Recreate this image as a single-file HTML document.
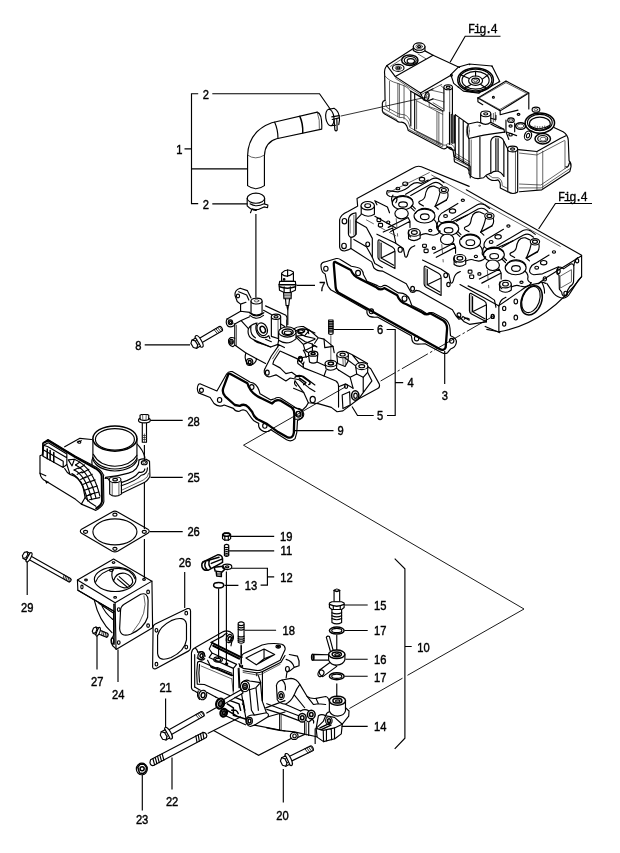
<!DOCTYPE html>
<html><head><meta charset="utf-8"><title>Parts diagram</title>
<style>
html,body{margin:0;padding:0;background:#fff}
body{width:620px;height:853px;overflow:hidden}
svg{display:block;filter:grayscale(1)}
svg *{vector-effect:non-scaling-stroke}
.k{stroke:#000;stroke-width:1.15;fill:none;stroke-linecap:round;stroke-linejoin:round}
.b{stroke:#000;stroke-width:1.5;fill:none;stroke-linecap:round;stroke-linejoin:round}
.t{stroke:#222;stroke-width:0.7;fill:none;stroke-linecap:round;stroke-linejoin:round}
.l{stroke:#000;stroke-width:1.15;fill:none}
.w{fill:#fff}
text{font-family:"Liberation Sans","DejaVu Sans",sans-serif;font-weight:normal;font-size:13.3px;fill:#000;stroke:#000;stroke-width:0.4px}
.fig{font-family:"Liberation Mono","DejaVu Sans Mono",monospace;font-weight:normal;font-size:12px;letter-spacing:-1.55px;stroke:#000;stroke-width:0.3px}
</style></head><body>
<svg width="620" height="853" viewBox="0 0 620 853">
<rect x="0" y="0" width="620" height="853" fill="#fff" stroke="none"/>
<!-- 10_coverA1.svg -->
<g transform="translate(375,35) scale(0.193548)">
 <!-- top-left boss -->
 <path class="k" d="M198,60 L198,80 Q228,102 258,82 L258,60"/>
 <ellipse class="k w" cx="228" cy="60" rx="30" ry="19"/>
 <ellipse class="t" cx="228" cy="60" rx="17" ry="11"/>
 <ellipse class="k" cx="228" cy="60" rx="8" ry="5"/>
 <!-- top face edges -->
 <path class="k" d="M62,158 L198,70"/>
 <path class="t" d="M80,162 L150,117"/>
 <path class="k" d="M258,82 L300,105"/>
 <path class="t" d="M222,98 L262,122"/>
 <!-- boss 2 -->
 <ellipse class="k w" cx="120" cy="170" rx="30" ry="18"/>
 <ellipse class="t" cx="120" cy="170" rx="16" ry="10"/>
 <ellipse class="k" cx="120" cy="170" rx="8" ry="5"/>
 <!-- oil hole -->
 <ellipse class="b" cx="180" cy="130" rx="42" ry="27"/>
 <ellipse class="k" cx="182" cy="131" rx="31" ry="20"/>
 <ellipse class="k" cx="185" cy="134" rx="19" ry="12"/>
 <!-- left end -->
 <path class="k" d="M62,158 Q46,172 50,205 L52,338"/>
 <path class="k" d="M62,158 L105,215"/>
 <path class="t" d="M52,212 Q70,238 118,250 L150,262 Q172,270 185,292"/>
 <path class="t" d="M75,240 L75,390 M118,250 L118,420 M126,254 L126,424 M150,262 L150,434"/>
 <path class="k" d="M185,290 L185,470 M205,302 L205,492"/>
 <!-- plate -->
 <path class="k" d="M105,215 L300,105 L437,168 M105,215 L235,300 L392,208"/>
 <path class="t" d="M107,225 L236,310 L262,295"/>
 <!-- flange -->
 <path class="k" d="M52,338 Q40,340 38,352 L38,392 Q40,402 50,408 L112,443 Q122,453 136,450 Q160,452 168,480 L172,494 L348,586 Q362,592 372,580 Q396,576 404,600 L408,628 L492,678 L492,738"/>
 <path class="t" d="M44,380 L114,420 Q126,430 142,426 Q168,432 176,462 L180,478 L350,568 Q362,574 376,562 Q404,560 412,588 L416,612 L490,656"/>
 <path class="t" d="M56,345 Q52,365 62,375 L118,405 Q135,412 152,412 Q176,420 184,452"/>
 <path class="t" d="M41,397 L113,437 M176,488 L348,578 M410,620 L490,668"/>
 <path class="t" d="M205,492 L345,562 M212,500 L340,566"/>
 <!-- front face -->
 <path class="k" d="M185,290 L235,318 M205,302 L350,392"/>
 <path class="t" d="M215,340 L350,410 M215,340 L215,485"/>
 <path class="t" d="M320,395 L320,560 M350,395 L350,575 M330,400 L330,566"/>
 <path class="k" d="M385,400 L385,565"/>
 <path class="k" d="M394,410 L394,558 M402,413 L402,560 M410,416 L410,558"/>
 <!-- center column boss -->
 <path class="k" d="M356,270 L356,392 M400,270 L400,410"/>
 <path class="t" d="M386,282 L386,400"/>
 <ellipse class="k w" cx="378" cy="270" rx="22" ry="13"/>
 <ellipse class="k" cx="378" cy="270" rx="10" ry="6"/>
 <!-- pipe stub -->
 <ellipse class="k" cx="268" cy="318" rx="11" ry="22" transform="rotate(15 268 318)"/>
 <ellipse class="t" cx="270" cy="318" rx="6" ry="14" transform="rotate(15 270 318)"/>
 <path class="k" d="M262,297 L300,278 M276,340 L300,330"/>
 <path class="k" d="M235,300 L250,335 M250,335 L262,340"/>
 <!-- inner behind plate -->
 <path class="t" d="M290,285 L356,300 M300,330 L356,345 M300,350 L350,380 M280,345 L280,370 L350,395"/>
 <path class="t" d="M300,278 L345,255 M340,262 L356,275"/>
</g>
<g transform="translate(440,95) scale(0.145161)">
 <!-- middle section -->
 <path class="k" d="M105,135 L195,200 M105,135 L105,420 M130,160 L130,440 M160,180 L160,465"/>
 <path class="k" d="M195,200 Q180,245 198,300 M195,200 L258,186 L290,195 M198,300 L262,285 Q340,268 445,256 M350,200 Q400,230 440,236"/>
 <ellipse class="t" cx="192" cy="248" rx="10" ry="42"/>
 <path class="k" d="M200,300 L200,540 Q215,572 262,576 L300,570 Q318,548 345,540 M275,290 L275,565"/>
 <path class="t" d="M215,310 L215,550"/>
 <path class="k" d="M350,540 L350,320 Q355,290 385,285 Q430,285 440,320 L440,560"/>
 <path class="k" d="M385,300 L385,520 M400,300 L400,525 M350,540 Q370,520 400,525 Q420,530 440,560"/>
 <path class="k" d="M320,560 Q350,600 400,585 Q420,600 415,640 L470,668"/>
 <path class="t" d="M335,552 Q360,580 400,570 Q432,585 428,625 L468,645"/>
 <path class="k" d="M100,420 Q95,440 100,460 L190,505 L200,520 M45,350 Q70,380 100,380"/>
 <path class="t" d="M100,440 L192,488"/>
 <!-- boss -->
 <path class="k w" d="M280,132 L280,190 Q315,215 350,188 L350,132 Z"/>
 <ellipse class="k w" cx="315" cy="130" rx="35" ry="20"/>
 <ellipse class="k" cx="315" cy="130" rx="14" ry="8"/>
 <path class="k" d="M350,160 L385,170 L385,140 M350,188 L440,236 L445,256"/>
 <ellipse class="t" cx="272" cy="212" rx="6" ry="4"/>
 <!-- right column -->
 <path class="k w" d="M467,372 L467,665 Q500,690 535,668 L535,372 Z"/>
 <path class="t" d="M520,385 L520,672"/>
 <ellipse class="k w" cx="500" cy="372" rx="35" ry="20"/>
 <ellipse class="k" cx="500" cy="372" rx="14" ry="8"/>
 <path class="k" d="M440,320 L467,372"/>
</g>

<!-- 11_coverA2.svg -->
<g transform="translate(475,35) scale(0.193548)">
 <!-- round housing center (3,232) -->
 <path class="k" d="M-125,205 L-85,165 L-30,150 L88,160 L128,240 L20,300 L-60,290 L-110,250 Z"/>
 <ellipse class="b" cx="3" cy="232" rx="92" ry="62"/>
 <ellipse class="k" cx="3" cy="232" rx="84" ry="56"/>
 <ellipse class="k" cx="3" cy="234" rx="70" ry="46"/>
 <ellipse class="k" cx="3" cy="236" rx="36" ry="24"/>
 <ellipse class="k" cx="3" cy="236" rx="20" ry="13"/>
 <ellipse class="t" cx="3" cy="236" rx="10" ry="6"/>
 <path class="k" d="M-30,225 L-75,205 M38,228 L68,205 M-20,256 L-55,275 M30,256 L55,272 M3,212 L3,188"/>
 <circle cx="-122" cy="208" r="5" class="k"/><circle cx="-28" cy="152" r="4" fill="#000"/><circle cx="88" cy="162" r="4" fill="#000"/><circle cx="125" cy="240" r="4" fill="#000"/><circle cx="22" cy="298" r="4" fill="#000"/><circle cx="-85" cy="270" r="4" fill="#000"/>
 <!-- box plate -->
 <path class="k" d="M15,325 L160,238 L278,300 L130,392 Z"/>
 <path class="t" d="M22,325 L160,246 L268,302 L130,384 Z"/>
 <circle cx="95" cy="322" r="5" class="k"/>
 <circle cx="160" cy="240" r="4" fill="#000"/><circle cx="126" cy="388" r="4" fill="#000"/><circle cx="16" cy="325" r="4" fill="#000"/>
 <path class="k" d="M278,300 L278,382 M130,392 L130,412 L222,388 M15,325 L15,345 L40,360"/>
 <path class="t" d="M105,400 L105,445 M95,405 L95,450"/>
 <!-- right cluster -->
 <ellipse class="k" cx="315" cy="386" rx="20" ry="13"/>
 <ellipse class="t" cx="315" cy="386" rx="9" ry="6"/>
 <ellipse class="b" cx="335" cy="455" rx="76" ry="52"/>
 <ellipse class="k" cx="335" cy="452" rx="64" ry="42"/>
 <ellipse class="k" cx="335" cy="458" rx="54" ry="34"/>
 <path class="k" d="M285,470 Q335,500 385,468 M290,480 Q335,508 380,478"/>
 <path class="t" d="M310,470 L310,488 M322,472 L322,491 M335,473 L335,492 M348,472 L348,491 M360,470 L360,488"/>
 <ellipse class="k" cx="186" cy="440" rx="17" ry="12"/>
 <ellipse class="t" cx="186" cy="440" rx="9" ry="6"/>
 <ellipse class="b" cx="236" cy="470" rx="26" ry="17"/>
 <ellipse class="t" cx="236" cy="470" rx="17" ry="10"/>
 <ellipse class="k" cx="184" cy="470" rx="8" ry="6"/>
 <ellipse class="k" cx="184" cy="515" rx="9" ry="7"/>
 <ellipse class="k" cx="225" cy="410" rx="7" ry="5"/>
 <path class="k" d="M160,440 L160,500 L175,540 M205,455 L205,500 M160,500 L215,520"/>
 <ellipse class="k" cx="274" cy="520" rx="18" ry="24" transform="rotate(20 274 520)"/>
 <ellipse class="k" cx="274" cy="520" rx="8" ry="12" transform="rotate(20 274 520)"/>
 <ellipse class="b" cx="350" cy="536" rx="40" ry="27"/>
 <ellipse class="k" cx="350" cy="536" rx="26" ry="17"/>
 <ellipse class="t" cx="352" cy="538" rx="16" ry="10"/>
 <!-- right end body -->
 <path class="k" d="M408,478 L455,500 Q480,515 482,545 L486,650 Q498,660 496,680 L490,705 L345,800 L230,810"/>
 <path class="k" d="M225,592 L320,602 L440,535 L470,520"/>
 <path class="t" d="M230,610 L320,620 L462,545"/>
 <path class="t" d="M320,602 L320,800 M350,600 L350,795 M465,548 L465,690"/>
 <path class="t" d="M230,770 L340,775 L480,680 M230,790 L342,790 L488,692"/>
 <path class="k" d="M470,680 Q480,690 488,660"/>
</g>
<!-- Fig.4 labels -->
<path class="l" d="M450.1,62.3 L465.2,36.2 L500.5,36.2"/>
<text class="fig" x="468" y="33.2">Fig.4</text>
<path class="l" d="M538.6,229 L555.4,203.5 L592,203.5"/>
<text class="fig" x="558" y="200.5">Fig.4</text>

<!-- 20_hose.svg -->
<g transform="translate(235,85) scale(0.193548)">
 <path class="k" d="M65,520 L65,365 Q68,240 190,195 L425,140 Q452,150 448,228 L215,278 Q155,295 152,365 L152,520 Q108,552 65,520 Z"/>
 <path class="t" d="M65,362 Q105,392 152,362"/>
 <path class="k" d="M205,192 Q222,230 222,275"/>
 <path class="b" d="M335,162 Q352,200 350,247"/>
 <path class="t" d="M425,140 Q440,180 436,228"/>
 <!-- top clamp -->
 <ellipse class="k" cx="490" cy="168" rx="21" ry="43" transform="rotate(-8 490 168)"/>
 <path class="k" d="M484,126 L512,120 Q540,135 540,180 L536,205 M497,210 L520,208"/>
 <path class="k" d="M500,165 L538,158 M502,178 L538,170"/>
 <path class="k" d="M512,178 L516,232 Q522,242 528,232 L526,175"/>
 <!-- bottom clamp -->
 <ellipse class="k" cx="108" cy="585" rx="45" ry="26"/>
 <path class="k" d="M63,585 L63,625 Q85,648 110,648 M153,585 L153,612"/>
 <path class="k" d="M78,614 Q110,634 150,614 L170,620 L168,634 L150,630 Q110,652 88,640 L80,660"/>
</g>
<!-- bracket & leaders for 1,2 -->
<path class="l" d="M198.2,93.7 L191.5,93.7 L191.5,203.6 L198.2,203.6 M184.5,148.9 L191.5,148.9 M191.5,168.8 L247.7,168.8"/>
<path class="l" d="M212.3,93.7 L319.5,93.7 L330.5,109.5 M212.3,203.9 L247.4,203.9"/>
<path class="l" d="M255.9,214 L255.9,297.5"/>
<path class="t" style="stroke:#000;stroke-width:0.8" d="M341,116 L427,97"/>
<text transform="translate(202.7,98.5) scale(0.84,1)">2</text>
<text transform="translate(202.7,208.7) scale(0.84,1)">2</text>
<text transform="translate(176.2,153.9) scale(0.84,1)">1</text>

<!-- 30_headB1.svg -->
<g transform="translate(335,165) scale(0.209677)">
 <!-- top outline -->
 <path class="k" d="M108,196 L105,160 L372,14 Q392,2 412,8 L640,102"/>
 <!-- left end flange -->
 <path class="k" d="M105,198 L62,222 Q25,238 22,262 L22,392 Q25,410 45,410 L62,405 L76,398 L76,345"/>
 <path class="k" d="M76,345 Q62,340 64,320 L64,262 Q66,240 85,232 L100,228 M100,232 L100,330 Q92,345 76,345"/>
 <path class="t" d="M72,262 L72,325 M90,240 L90,335"/>
 <ellipse class="k" cx="45" cy="268" rx="11" ry="13"/>
 <ellipse class="k" cx="43" cy="386" rx="11" ry="13"/>
 <!-- left boss -->
 <path class="k" d="M125,195 L125,232 Q155,255 188,235 L188,195"/>
 <ellipse class="k w" cx="156" cy="194" rx="32" ry="20"/>
 <ellipse class="k" cx="156" cy="194" rx="14" ry="9"/>
 <path class="k" d="M100,262 L125,235 M100,262 L100,330"/>
 <!-- front face -->
 <path class="k" d="M100,270 L150,298 L178,350 L178,440 M76,398 L175,462 L185,490 Q200,506 226,506 L340,566 Q350,585 362,606 Q378,612 386,598 L400,600 L480,645 L560,690 Q575,720 590,735 Q605,735 610,722 L640,740"/>
 <path class="k" d="M90,355 L150,390 L178,440 L190,470 L226,490"/>
 <ellipse class="k" cx="156" cy="378" rx="9" ry="11"/>
 <ellipse class="k" cx="311" cy="404" rx="10" ry="12"/>
 <ellipse class="k" cx="370" cy="590" rx="9" ry="11"/>
 <ellipse class="k" cx="528" cy="526" rx="9" ry="11"/>
 <ellipse class="k" cx="541" cy="570" rx="8" ry="10"/>
 <ellipse class="k" cx="591" cy="716" rx="9" ry="11"/>
 <!-- port 1 -->
 <path class="k" d="M213,358 L275,392 Q286,398 286,412 L286,494 L215,456 Q205,450 205,440 L205,368 Q205,354 213,358 Z"/>
 <path class="k" d="M220,372 L220,444 L280,478 M220,444 L284,412"/>
 <path class="t" d="M213,366 L213,450"/>
 <!-- port 2 -->
 <path class="k" d="M433,483 L495,517 Q506,523 506,537 L506,622 L435,583 Q425,577 425,567 L425,493 Q425,479 433,483 Z"/>
 <path class="k" d="M440,498 L440,571 L500,606 M440,571 L504,540"/>
 <path class="t" d="M433,492 L433,577"/>
</g>

<!-- 31_headB2.svg -->
<g transform="translate(460,165) scale(0.209677)">
 <!-- top right edge -->
 <path class="k" d="M30,118 L580,430"/>
 <path class="t" d="M-135,48 L478,388"/>
 <path class="k" d="M186,672 L0,570 M190,800 L120,770"/>
 <ellipse class="k" cx="157" cy="722" rx="7" ry="10"/>
 <!-- last port -->
 <path class="k" d="M53,613 L115,647 Q126,653 126,667 L126,748 L55,711 Q45,705 45,695 L45,623 Q45,609 53,613 Z"/>
 <path class="k" d="M60,628 L60,700 L120,734 M60,700 L124,668"/>
 <path class="t" d="M53,620 L53,706"/>
 <path class="k" d="M-10,720 Q10,735 20,748 L45,760 L126,748 M20,735 Q30,725 45,735"/>
</g>
<g transform="translate(490,235) scale(0.16129)">
 <!-- right face -->
 <path class="k" d="M568,128 L568,258 Q348,551 55,600 L55,438 L190,345 Q230,308 300,300 L350,264 L568,128"/>
 <path class="k" d="M55,600 L-20,585"/>
 <!-- round port -->
 <ellipse class="b" cx="258" cy="405" rx="62" ry="94" transform="rotate(20 258 405)"/>
 <ellipse class="k" cx="254" cy="400" rx="53" ry="84" transform="rotate(20 254 400)"/>
 <path class="k" d="M300,302 L320,290 L345,300 M320,290 Q340,330 338,360"/>
 <!-- thermostat flange -->
 <path class="k" d="M415,217 Q420,195 440,200 L456,210 L500,180 Q520,175 520,200 L518,290 Q515,310 495,320 L480,345 Q485,376 465,380 Q445,378 445,355 L430,335 L428,250 L415,240 Z"/>
 <path class="k" d="M352,300 Q375,335 395,362 Q420,390 455,392 Q485,385 495,362 L548,280 L568,258 M520,190 Q525,150 545,140"/>
 <path class="t" d="M436,255 L505,215 L505,290 L438,328 Z"/>
 <ellipse class="k" cx="425" cy="225" rx="10" ry="14"/>
 <ellipse class="k" cx="540" cy="160" rx="10" ry="13"/>
 <ellipse class="k" cx="468" cy="362" rx="10" ry="13"/>
 <ellipse class="k" cx="340" cy="272" rx="10" ry="13"/>
 <ellipse class="k" cx="88" cy="455" rx="10" ry="13"/>
 <ellipse class="k" cx="160" cy="412" rx="11" ry="15"/>
 <ellipse class="k" cx="160" cy="512" rx="11" ry="15"/>
 <ellipse class="k" cx="88" cy="552" rx="10" ry="13"/>
 <ellipse class="k" cx="15" cy="505" rx="9" ry="13"/>
</g>
<!-- inner rim left -->
<path class="t" d="M386.6,193.6 L429.3,172.6"/>

<!-- 32_headunits.svg -->
<defs>
<g id="hu">
 <ellipse class="k" cx="195" cy="302" rx="72" ry="46"/>
 <path class="k" d="M130,285 Q150,250 200,250 Q240,252 262,280"/>
 <ellipse class="k" cx="197" cy="312" rx="30" ry="18"/>
 <ellipse class="k w" cx="187" cy="375" rx="46" ry="36"/>
 <ellipse class="k" cx="345" cy="392" rx="72" ry="48"/>
 <path class="k" d="M282,375 Q300,338 350,338 Q395,340 414,372"/>
 <ellipse class="k" cx="347" cy="397" rx="30" ry="20"/>
 <path class="k" d="M215,242 L395,136 Q420,124 448,138 L480,162"/>
 <path class="k" d="M250,250 L400,166 Q424,154 446,166 L468,182"/>
 <path class="k" d="M365,205 Q352,228 350,252 Q345,278 315,288 Q298,296 312,308 L338,322"/>
 <path class="k" d="M365,205 Q382,182 412,186 L442,200"/>
 <path class="k" d="M445,395 Q430,432 470,440 L530,434 L640,385 M445,395 Q455,372 480,362 L575,305"/>
 <ellipse class="k" cx="490" cy="392" rx="13" ry="10"/>
 <ellipse class="k" cx="538" cy="357" rx="22" ry="15"/>
 <ellipse class="k w" cx="478" cy="213" rx="32" ry="22"/>
 <ellipse class="k" cx="478" cy="213" rx="17" ry="11"/>
 <path class="b" d="M495,282 L418,325"/>
 <path class="k" d="M505,230 Q512,262 495,282 M452,228 Q445,270 418,325 L440,345"/>
 <ellipse class="k" cx="609" cy="283" rx="11" ry="8"/>
 <ellipse class="k" cx="385" cy="492" rx="11" ry="8"/>
 <path class="k" d="M235,505 L235,548 Q275,575 315,545 L315,505"/>
 <ellipse class="k w" cx="275" cy="505" rx="40" ry="26"/>
 <ellipse class="k" cx="275" cy="505" rx="20" ry="13"/>
 <path class="k" d="M238,488 Q222,520 250,536 M315,524 Q350,506 374,518 L405,524 Q440,520 452,496"/>
 <path class="k" d="M412,418 Q436,440 428,468 Q428,488 452,496"/>
 <path class="k" d="M125,300 Q110,270 128,248"/>
 <path class="k" d="M258,318 L282,342 M250,332 L275,356"/>
 <path class="k" d="M95,470 L232,402 M112,498 L245,428 L245,470 M232,402 L245,428"/>
 <path class="t" stroke-dasharray="9 6" d="M150,410 L160,530"/>
 <rect class="k" x="18" y="408" width="26" height="22" rx="6"/><rect class="k" x="28" y="442" width="28" height="24" rx="6"/>
 <ellipse class="k" cx="95" cy="435" rx="11" ry="9"/>
 <path class="k" d="M17,517 L144,578 L199,615 Q206,650 211,672 Q222,684 230,657 Q236,622 256,607 L278,596"/>
</g>
</defs>
<clipPath id="hc"><path d="M340,150 L600,150 L600,244.4 L480,317.6 L480,360 L340,360 Z"/></clipPath>
<g clip-path="url(#hc)">
<g transform="translate(420,185) scale(0.145161)">
 <use href="#hu" transform="translate(-314,-178)"/>
 <use href="#hu"/>
 <use href="#hu" transform="translate(314,178)"/>
</g>
</g>
<g transform="translate(335,165) scale(0.209677)">
 <path class="k" d="M250,122 Q238,140 262,150 L292,152 Q300,165 290,180 M250,122 L300,128 Q340,120 362,95 Q385,78 410,88 L445,72"/>
 <ellipse class="k" cx="335" cy="90" rx="12" ry="9"/>
 <ellipse class="k" cx="415" cy="68" rx="13" ry="9"/>
 <ellipse class="k" cx="300" cy="112" rx="9" ry="6"/>
 <path class="k" d="M190,170 L250,200 L260,228 M190,170 L200,190 M190,245 L290,300 M230,320 L275,300 L290,372"/>
 <path class="t" stroke-dasharray="8 5" d="M150,262 L290,338"/>
</g>

<!-- 40_manifD1.svg -->
<g transform="translate(222,295) scale(0.145161)">
 <!-- top-left ear (above stub) -->
 <g transform="translate(5,25)"><path class="k" d="M85,-22 Q80,-60 120,-72 L170,-55 L195,-5 M85,-22 L100,20 L123,38 L123,87 M110,-48 L165,-25 L180,10 M123,38 L160,25"/>
 <ellipse class="k" cx="105" cy="-18" rx="11" ry="13"/></g>
 <!-- pipe stub -->
 <path class="k w" d="M200,42 L200,125 Q238,150 276,125 L276,42 Z"/>
 <ellipse class="k w" cx="238" cy="42" rx="38" ry="20"/>
 <ellipse class="t" cx="238" cy="40" rx="16" ry="8"/>
 <path class="k" d="M190,122 Q238,165 288,122 M192,140 Q238,180 286,140"/>
 <!-- block -->
 <path class="k" d="M35,165 L128,112 L192,120 M286,105 L340,135 M300,75 L440,140 Q452,152 446,175 L446,215"/>
 <path class="k" d="M35,165 Q22,188 38,212 Q55,228 82,212 L88,200"/>
 <ellipse class="k" cx="58" cy="188" rx="15" ry="17"/>
 <ellipse class="k" cx="59" cy="189" rx="7" ry="9"/>
 <path class="k" d="M88,200 L88,345 L165,400 L235,437 M88,200 L132,176 L182,232 M132,176 L190,150"/>
 <path class="t" d="M100,208 L100,350 M88,200 L35,165"/>
 <path class="k" d="M88,298 Q55,284 45,310 Q42,346 76,356 L88,345"/>
 <ellipse class="k" cx="65" cy="322" rx="13" ry="16"/>
 <ellipse class="k" cx="66" cy="323" rx="6" ry="8"/>
 <path class="k" d="M165,400 Q150,440 175,472 Q205,492 226,466 Q240,450 235,437 L300,472"/>
 <ellipse class="k" cx="190" cy="462" rx="22" ry="24"/>
 <ellipse class="b" cx="191" cy="463" rx="10" ry="12"/>
 <!-- bulge and round boss -->
 <path class="k" d="M182,232 Q170,285 215,306 L335,358 M182,232 Q200,200 242,194 M215,306 Q238,332 272,336 M200,215 Q190,270 230,295"/>
 <path class="k" d="M238,198 Q222,250 262,286 Q300,304 322,280 L330,300"/>
 <ellipse class="k" cx="277" cy="236" rx="34" ry="46" transform="rotate(-25 277 236)"/>
 <ellipse class="b" cx="281" cy="238" rx="17" ry="24" transform="rotate(-25 281 238)"/>
 <path class="k" d="M272,336 L335,358 L385,340 M300,305 L340,322"/>
 <!-- post -->
 <path class="k w" d="M340,150 L340,285 L385,300 L404,290 L404,150 Z"/>
 <path class="t" d="M386,160 L386,296"/>
 <ellipse class="k w" cx="372" cy="150" rx="32" ry="18"/>
 <ellipse class="k" cx="372" cy="150" rx="14" ry="8"/>
 <path class="k" d="M404,200 L430,215 L430,235"/>
 <!-- sensor boss -->
 <path class="k w" d="M390,255 L390,312 Q450,352 510,302 L510,255 Z"/>
 <ellipse class="k w" cx="450" cy="255" rx="60" ry="35"/>
 <ellipse class="b" cx="452" cy="256" rx="38" ry="21"/>
 <ellipse class="k" cx="454" cy="260" rx="25" ry="12"/>
 <path class="k" d="M390,312 L385,340 L430,362 M385,340 L385,356"/>
 <!-- right top small boss area -->
 <path class="k" d="M505,250 Q540,222 592,240 L640,262 M510,290 L560,340 L572,382 L640,348 M525,262 L575,285 L640,300 M560,340 L640,305"/>
 <ellipse class="k" cx="548" cy="246" rx="22" ry="12"/>
 <!-- flange plate -->
 <path class="k" d="M385,356 L340,420 L300,500 Q284,522 296,548 Q312,572 342,560 L372,550 L440,592 L470,572 L532,584 L600,640 L640,665"/>
 <path class="k" d="M400,386 L356,455 L350,476 L400,502 L440,542 L480,532 L520,562 L560,560 L640,620 M400,386 L520,440 L560,480"/>
 <path class="t" d="M392,372 L348,440"/>
 <ellipse class="k" cx="312" cy="535" rx="13" ry="17"/>
 <ellipse class="k" cx="540" cy="440" rx="14" ry="18"/>
 <path class="k" d="M560,380 Q575,400 580,430 M572,382 L600,400 L640,440"/>
</g>

<!-- 41_manifD2.svg -->
<g transform="translate(295,320) scale(0.145161)">
 <!-- stud 6 -->
 <path class="k w" d="M232,0 L262,0 L262,95 Q247,105 232,95 Z"/>
 <path class="k" d="M232,10 L262,10 M232,22 L262,22 M232,34 L262,34 M232,46 L262,46 M232,58 L262,58 M232,70 L262,70 M232,82 L262,82"/>
 <path class="t" d="M247,108 L247,288"/>
 <!-- rocker-like top -->
 <path class="k" d="M-10,62 Q20,40 60,46 L100,70 L160,122 L200,132 L262,182 M60,46 Q90,60 95,95 M10,110 L70,150 L120,165 M100,70 L70,105 L10,110 M160,122 L135,160"/>
 <ellipse class="k" cx="38" cy="80" rx="20" ry="12"/>
 <path class="k" d="M120,165 L120,210 M200,132 L205,190 L262,182 L270,225"/>
 <path class="b" d="M120,170 L150,185"/>
 <!-- stud boss 1 -->
 <path class="k w" d="M93,235 L100,290 Q125,305 152,290 L157,235 Z"/>
 <ellipse class="k w" cx="125" cy="232" rx="32" ry="18"/>
 <ellipse class="b" cx="125" cy="232" rx="14" ry="8" fill="#333"/>
 <!-- boss 3 -->
 <path class="k w" d="M288,242 L294,300 L345,320 L365,285 L368,242 Z"/>
 <path class="t" d="M330,262 L332,312 M345,262 L347,316"/>
 <ellipse class="k w" cx="328" cy="238" rx="40" ry="22"/>
 <ellipse class="k" cx="328" cy="238" rx="18" ry="10"/>
 <!-- stud boss 2 -->
 <path class="k w" d="M208,304 L214,336 Q247,358 286,332 L288,300 Z"/>
 <ellipse class="k w" cx="247" cy="300" rx="40" ry="22"/>
 <ellipse class="b" cx="247" cy="300" rx="18" ry="10"/>
 <!-- link 3-4 and boss 4 -->
 <path class="k" d="M355,220 L395,240 L440,296 M345,262 L420,318 M395,240 L500,300"/>
 <path class="k w" d="M418,320 L425,372 L470,395 L500,360 L502,322 Z"/>
 <ellipse class="k w" cx="460" cy="318" rx="42" ry="24"/>
 <ellipse class="k" cx="460" cy="318" rx="20" ry="11"/>
 <!-- body -->
 <path class="k" d="M502,322 L522,336 L580,440 Q588,462 570,472 L440,542 L330,626 L290,632 L250,602 L160,576 L92,570 L60,500 L0,420"/>
 <path class="k" d="M500,360 L530,420 L470,500 L440,542 M470,395 L470,500 M425,372 L380,395 L300,345 M380,395 L400,470"/>
 <path class="k" d="M20,300 Q10,270 40,262 L93,250 M20,300 L60,330 L150,365 L200,386 L282,420 Q300,432 300,460 L300,600 M152,290 L208,315 M60,330 Q50,310 62,290"/>
 <ellipse class="k" cx="38" cy="272" rx="12" ry="15"/>
 <path class="k" d="M300,460 L350,440 L400,470 M286,332 L300,345 M200,386 L214,345"/>
 <path class="k" d="M325,516 L376,494 L380,586 L330,610 Z"/>
 <ellipse class="b" cx="415" cy="520" rx="25" ry="32"/>
 <ellipse class="k" cx="417" cy="522" rx="12" ry="18"/>
 <ellipse class="k" cx="352" cy="458" rx="11" ry="13"/>
 <!-- clip on flange -->
 <path class="b" d="M0,395 Q20,375 45,385 L100,425 Q110,440 95,445 M30,400 L75,432 L60,445"/>
 <path class="k" d="M0,420 Q-10,440 10,455 M-10,470 L60,500"/>
 <ellipse class="k" cx="122" cy="548" rx="18" ry="22"/>
 <ellipse class="k" cx="24" cy="650" rx="18" ry="20"/>
 <path class="k" d="M-10,600 Q20,610 45,625 Q60,650 45,675 Q20,690 -10,680 M92,570 Q80,600 50,622"/>
</g>
<!-- bracket 4/5/6 and labels -->
<path class="l" d="M386.6,329.5 L395.2,329.5 L395.2,415.5 L387,415.5 M395.2,382.6 L403.2,382.6"/>
<path class="l" d="M333.5,329.5 L373.7,329.5 M352,406.5 L357.5,415.5 L373.7,415.5"/>
<path class="l" d="M444.7,351 L444.7,384"/>
<text transform="translate(376.9,333.9) scale(0.84,1)">6</text>
<text transform="translate(407.6,387.4) scale(0.84,1)">4</text>
<text transform="translate(376.9,420) scale(0.84,1)">5</text>
<text transform="translate(441.8,399.5) scale(0.84,1)">3</text>

<!-- 45_sensor_bolt8.svg -->
<g transform="translate(180,262) scale(0.193548)">
 <!-- sensor 7 -->
 <path class="k w" d="M525,100 L525,58 Q552,28 586,52 L586,100 Z"/>
 <path class="k" d="M525,62 Q552,85 586,58 M556,40 L556,75"/>
 <circle class="k" cx="538" cy="90" r="4"/>
 <path class="k w" d="M515,100 L596,100 L598,118 L596,146 L570,158 L538,158 L514,146 L512,118 Z"/>
 <path class="b" d="M512,118 L598,118 M514,128 Q555,142 596,128"/>
 <path class="k" d="M538,128 L538,158 M570,128 L570,158"/>
 <path class="k w" d="M535,158 L575,158 L574,190 L537,190 Z"/>
 <path class="t" d="M536,166 L574,166 M536,174 L574,174 M536,182 L574,182"/>
 <path class="k" d="M545,190 L548,225 L562,225 L566,190 M552,225 L557,250 L560,225"/>
 <path class="l" d="M557,250 L557,325"/>
</g>
<path class="l" d="M144.7,344.8 L190,344.8 M296.5,285.3 L315,285.3"/>
<text transform="translate(135.2,349.7) scale(0.84,1)">8</text>
<text transform="translate(319.2,290.6) scale(0.84,1)">7</text>

<!-- 50_gaskets.svg -->
<g transform="translate(315,245) scale(0.241935)">
 <!-- gasket 3 outer -->
 <path class="k" d="M25,90 Q22,74 40,70 L88,56 Q98,54 108,62 L150,88 Q162,90 172,92 Q198,96 200,122 L215,150 L258,168 Q272,178 282,168 Q292,164 302,172 L345,198 Q380,196 392,228 L400,250 L440,270 L462,284 Q474,278 488,280 L535,305 Q556,318 558,345 L560,375 Q588,385 584,405 Q580,425 560,430 L548,445 Q538,452 525,445 L455,408 Q440,410 425,410 Q400,408 400,385 L398,375 L258,298 Q240,300 225,295 Q212,285 215,270 L65,185 Q50,170 48,150 L42,120 Q26,112 25,90 Z"/>
 <path class="b" style="stroke-width:2.3" d="M84,70 L148,103 Q158,130 186,140 L255,176 Q270,190 286,178 L340,208 Q350,236 378,245 L445,280 Q460,292 476,282 L530,312 Q546,324 546,345 L540,424 Q532,440 515,430 L96,196 Q85,186 85,170 L78,84 Q76,68 84,70 Z"/>
 <ellipse class="k" cx="45" cy="98" rx="9" ry="10"/>
 <ellipse class="k" cx="178" cy="116" rx="10" ry="11"/>
 <ellipse class="k" cx="233" cy="274" rx="9" ry="10"/>
 <ellipse class="k" cx="370" cy="222" rx="10" ry="11"/>
 <ellipse class="k" cx="420" cy="386" rx="9" ry="10"/>
 <ellipse class="k" cx="565" cy="396" rx="9" ry="10"/>
</g>
<g transform="translate(185,360) scale(0.241935)">
 <!-- gasket 9 -->
 <path class="k" d="M56,100 Q46,118 56,136 L104,155 L120,180 Q140,198 162,186 L200,200 Q210,215 225,212 Q240,200 255,212 L275,240 Q285,255 305,262 Q300,285 325,295 Q345,300 355,288 L420,330 Q440,340 455,325 L462,300 L465,250 Q495,240 490,220 Q484,200 462,200 L400,160 Q385,150 370,160 L355,165 L310,140 Q300,95 270,92 L195,48 Q180,45 172,58 L132,128 L62,98 Z"/>
 <path class="b" style="stroke-width:2.3" d="M186,57 L258,96 Q270,140 320,160 L360,180 Q375,160 396,168 L440,195 Q452,205 452,226 L450,300 Q446,326 425,320 L385,298 L340,265 L300,245 Q285,236 278,215 L262,195 Q246,178 226,190 L206,186 L166,150 Q152,135 158,116 L178,62 Q180,54 186,57 Z"/>
 <ellipse class="k" cx="68" cy="125" rx="8" ry="9"/>
 <ellipse class="k" cx="143" cy="165" rx="9" ry="10"/>
 <ellipse class="k" cx="276" cy="112" rx="9" ry="10"/>
 <ellipse class="k" cx="468" cy="222" rx="9" ry="10"/>
 <ellipse class="k" cx="330" cy="272" rx="9" ry="10"/>
</g>
<path class="l" d="M295,430.6 L333.5,430.6"/>
<text transform="translate(337.4,434.8) scale(0.84,1)">9</text>

<!-- 60_throttle.svg -->
<g transform="translate(30,405) scale(0.209677)">
 <!-- flange & body right -->
 <path class="k" d="M510,185 Q540,215 548,250 M520,262 Q545,250 570,268 L572,340 Q560,365 540,372 L440,420 M300,250 Q290,270 300,300 L352,335 M358,350 Q372,345 380,362 M435,370 Q500,350 520,320 Q545,325 548,305"/>
 <path class="k" d="M360,345 Q420,340 470,325 Q520,310 520,262 M435,385 Q510,360 530,335 Q560,330 560,300"/>
 <path class="t" d="M440,405 L540,358 Q565,345 566,325"/>
 <ellipse class="k" cx="545" cy="275" rx="14" ry="10"/>
 <ellipse class="t" cx="545" cy="275" rx="7" ry="5"/>
 <!-- front boss -->
 <path class="k" d="M380,360 L380,425 Q405,445 436,425 L436,365"/>
 <path class="t" d="M392,370 L392,432 M424,370 L424,430"/>
 <ellipse class="k w" cx="406" cy="356" rx="28" ry="14"/>
 <ellipse class="k" cx="406" cy="356" rx="11" ry="6"/>
 <!-- top cylinder -->
 <path class="k w" d="M300,160 L300,260 Q320,310 405,315 Q490,310 510,265 L510,160 Z"/>
 <path class="k" d="M302,235 Q330,290 405,292 Q480,290 510,240 M300,250 Q325,302 405,305 Q485,302 510,255"/>
 <ellipse class="b w" cx="405" cy="160" rx="105" ry="60"/>
 <ellipse class="k" cx="405" cy="164" rx="93" ry="51"/>
 </g>
<g transform="translate(32,425) scale(0.145161)">
 <!-- motor housing -->
 <path class="k w" d="M75,125 L110,100 L300,215 L440,290 Q488,320 492,350 L495,528 Q490,560 440,588 L340,545 L300,512 L95,386 Q60,372 55,332 L55,212 L72,205 Z"/>
 <path class="b" style="stroke-width:2" d="M82,122 L112,108 L298,222 L436,298 Q476,324 480,352 L482,526 Q478,552 442,574"/>
 <path class="k" d="M75,125 L72,205 L76,216 L215,292 L240,272 L240,226 L110,150 L80,140 L76,216 M80,140 L112,122 L240,200 L240,226 M215,292 L215,250 L80,172"/>
 <path class="b" d="M105,165 L105,232 M125,176 L125,243 M150,190 L150,256"/>
 <path class="k" d="M240,272 L262,340 Q330,362 350,420 L366,500 L340,545 M262,340 Q240,330 225,300"/>
 <path class="k" d="M250,240 L292,236 L276,282 Z"/>
 <path class="k" d="M292,236 Q420,290 468,490 M300,275 Q395,320 440,500 M290,310 Q370,345 412,515 M275,335 Q345,370 385,525"/>
 <path class="k" d="M300,275 L330,255 M322,300 L362,275 M345,330 L392,305 M362,365 L415,340 M375,400 L435,378 M385,440 L450,420 M392,480 L460,462 M395,515 L466,500 M290,310 L318,296 M312,340 L345,322 M335,375 L372,357 M350,410 L390,393 M362,450 L402,435 M370,490 L412,478"/>
 <path class="k" d="M366,500 Q400,540 440,560 M55,332 L95,350 M95,386 L100,400 L110,392"/>
 <path class="k" d="M225,150 L330,92 L410,100 M312,118 L340,108"/>
 <ellipse class="k" cx="326" cy="118" rx="10" ry="8"/>
</g>
<!-- gasket 26 upper -->
<g transform="translate(30,405) scale(0.209677)">
 <path class="k" d="M246,592 L392,510 Q405,503 418,510 L562,592 Q575,602 562,612 L418,697 Q405,704 392,697 L246,612 Q234,602 246,592 Z"/>
 <ellipse class="k" cx="405" cy="605" rx="105" ry="62"/>
 <ellipse class="k" cx="405" cy="523" rx="10" ry="7"/>
 <ellipse class="k" cx="265" cy="605" rx="10" ry="7"/>
 <ellipse class="k" cx="545" cy="605" rx="10" ry="7"/>
 <ellipse class="k" cx="405" cy="686" rx="10" ry="7"/>
</g>

<!-- 61_adapter.svg -->
<g transform="translate(65,545) scale(0.225806)">
 <!-- adapter 24 -->
 <path class="k w" d="M55,155 L215,62 L385,160 L388,366 L228,462 L210,445 L205,420 L215,400 L215,292 L57,200 Z"/>
 <path class="k" d="M55,155 L222,256 L385,160 M222,256 L226,462 M57,200 L220,296"/>
 <path class="b" d="M217,262 L217,440"/>
 <ellipse class="k" cx="222" cy="152" rx="92" ry="54"/>
 <path class="k" d="M135,165 Q150,120 215,105 Q290,95 310,150 M215,105 Q200,130 215,160 Q235,185 262,190 M215,160 Q225,120 265,125 Q300,135 300,165 Q290,190 262,190 M240,140 L285,180 M232,150 L275,186"/>
 <ellipse class="k" cx="205" cy="112" rx="8" ry="5"/>
 <ellipse class="k" cx="215" cy="78" rx="6" ry="4"/><ellipse class="k" cx="93" cy="155" rx="6" ry="4"/><ellipse class="k" cx="350" cy="153" rx="6" ry="4"/><ellipse class="k" cx="222" cy="232" rx="6" ry="4"/>
 <ellipse class="k" cx="75" cy="186" rx="5" ry="8"/>
 <!-- right face opening -->
 <path class="k" d="M246,290 Q246,272 262,262 L335,218 Q366,208 368,245 L366,320 Q350,370 290,395 Q245,410 242,370 Z"/>
 <path class="t" d="M350,225 Q372,300 300,385"/>
 <ellipse class="k" cx="238" cy="286" rx="6" ry="8"/><ellipse class="k" cx="368" cy="208" rx="6" ry="8"/><ellipse class="k" cx="368" cy="357" rx="6" ry="8"/><ellipse class="k" cx="238" cy="432" rx="6" ry="8"/>
 <!-- elbow below -->
 <path class="k" d="M130,245 Q150,335 208,388 M150,258 L212,300 M160,262 Q175,300 212,330"/>
 <ellipse class="k" cx="210" cy="425" rx="6" ry="14"/>
 <!-- gasket 26 #2 -->
 <path class="k" d="M390,365 Q390,355 400,350 L540,282 Q555,278 556,292 L556,455 Q556,465 546,470 L402,548 Q388,552 388,538 Z"/>
 <path class="k" d="M410,400 Q420,360 470,335 Q530,310 538,350 L538,420 Q530,470 470,498 Q415,520 410,480 Z"/>
 <ellipse class="k" cx="405" cy="378" rx="6" ry="8"/><ellipse class="k" cx="537" cy="302" rx="6" ry="8"/><ellipse class="k" cx="537" cy="452" rx="6" ry="8"/><ellipse class="k" cx="405" cy="528" rx="6" ry="8"/>
</g>
<path class="l" d="M27.2,560 L27.2,595 M97,635.5 L97,669.5 M118,649.5 L118,682 M184.7,572 L184.7,608"/>
<path class="l" d="M144.4,445 L144.4,460 M144.4,482 L144.4,529 M144.4,539 L144.4,578 M150,420.3 L182.7,420.3 M150.5,477.4 L182.7,477.4 M149.6,531.6 L182.7,531.6"/>
<!-- bolt 28 -->
<path class="k w" d="M142.3,422 L142.3,442.2 L146.5,442.2 L146.5,422 Z"/>
<path class="t" d="M142.3,435.5 L146.5,435.5 M142.3,437.5 L146.5,437.5 M142.3,439.5 L146.5,439.5 M144.4,434 L144.4,442"/>
<ellipse class="k w" cx="144.4" cy="420.3" rx="5.9" ry="2.6"/>
<path class="k w" d="M140.2,419.5 L140,415.3 L141.5,414.5 L147.3,414.5 L148.8,415.3 L148.6,419.5 Q144.4,421.3 140.2,419.5 Z"/>
<path class="t" d="M142.6,414.7 L142.8,420 M146.2,414.7 L146,420"/>
<text transform="translate(187.4,425.5) scale(0.84,1)">28</text>
<text transform="translate(187.4,482.4) scale(0.84,1)">25</text>
<text transform="translate(187.4,536.3) scale(0.84,1)">26</text>
<text transform="translate(21,611.5) scale(0.84,1)">29</text>
<text transform="translate(91,686) scale(0.84,1)">27</text>
<text transform="translate(112,698.5) scale(0.84,1)">24</text>
<text transform="translate(178.7,566.5) scale(0.84,1)">26</text>

<!-- 70_manif14a.svg -->
<g transform="translate(185,620) scale(0.16129)">
 <!-- left flange -->
 <path class="k" d="M40,205 Q42,182 62,172 L238,72 Q270,58 296,86 Q308,112 290,135 L285,160 M40,205 L40,420 Q42,436 60,440 L80,452 M60,215 L60,415 M62,172 Q75,180 80,200"/>
 <path class="k" d="M80,200 Q118,185 125,225 M160,140 L235,100 Q245,85 262,82 M75,235 Q100,260 122,240"/>
 <ellipse class="k" cx="275" cy="115" rx="18" ry="26" transform="rotate(20 275 115)"/>
 <ellipse class="b" cx="277" cy="116" rx="9" ry="14" transform="rotate(20 277 116)"/>
 <ellipse class="k" cx="100" cy="220" rx="19" ry="24" transform="rotate(20 100 220)"/>
 <ellipse class="b" cx="102" cy="221" rx="9" ry="12" transform="rotate(20 102 221)"/>
 <ellipse class="k" cx="110" cy="465" rx="24" ry="30" transform="rotate(15 110 465)"/>
 <ellipse class="b" cx="112" cy="466" rx="12" ry="16" transform="rotate(15 112 466)"/>
 <path class="k" d="M82,440 Q70,470 90,492 M135,448 L190,478 M60,415 L95,435 M120,400 L280,470"/>
 <!-- opening -->
 <path class="k" d="M78,262 Q68,330 76,398 L120,400 M78,262 Q90,250 110,262 L300,345 M90,275 Q82,330 90,385"/>
 <path class="t" d="M100,285 L290,365 M290,365 L300,460"/>
 <path class="k" d="M300,300 L300,440 M330,300 L335,420"/>
 <!-- top plate -->
 <path class="b" style="stroke-width:2" d="M168,142 L350,232 M175,160 L335,240"/>
 <path class="k" d="M150,232 L168,205 L320,275 L300,300 Z M140,250 L160,290 L290,345 M168,142 L150,180 L168,205"/>
 <ellipse class="k" cx="205" cy="245" rx="27" ry="16"/>
 <ellipse class="k" cx="205" cy="247" rx="17" ry="9"/>
 <ellipse class="k" cx="258" cy="272" rx="7" ry="5"/>
 <path class="k" d="M160,290 Q175,305 200,295 L290,330"/>
 <!-- stud 18 -->
 <path class="k w" d="M330,18 Q348,6 366,18 L366,138 Q348,150 330,138 Z"/>
 <path class="k" d="M330,30 Q348,40 366,30 M330,44 Q348,54 366,44 M330,58 Q348,68 366,58 M330,100 Q348,110 366,100 M330,114 Q348,124 366,114 M330,127 Q348,137 366,127"/>
 <path class="l" d="M348,152 L348,272"/>
 <ellipse class="k" cx="348" cy="285" rx="10" ry="6"/>
 <!-- top port -->
 <path class="k" d="M352,232 Q350,215 365,208 L478,155 Q540,140 600,150 Q625,160 620,185 L590,250 L475,308 Q460,315 440,312 L362,300 Q340,290 335,270"/>
 <path class="k" d="M378,235 L490,180 L556,214 L442,278 Z M490,180 L490,240 L442,278 M490,240 L545,218"/>
 <path class="k" d="M360,315 L445,328 Q465,328 480,320 L595,262 L620,220 M445,328 L445,345 M480,320 L480,500"/>
 <path class="t" d="M360,325 L440,340 L470,338 L590,275"/>
 <ellipse class="k" cx="578" cy="165" rx="14" ry="9"/>
 <ellipse class="b" cx="578" cy="165" rx="6" ry="4"/>
 <path class="k" d="M335,300 L340,420 M455,345 L470,390"/>
 <!-- pivot boss and arm -->
 <ellipse class="k w" cx="372" cy="412" rx="28" ry="33"/>
 <ellipse class="b" cx="372" cy="412" rx="14" ry="18"/>
 <ellipse class="k" cx="372" cy="412" rx="7" ry="9"/>
 <path class="k" d="M352,388 Q375,365 400,378 L468,388 L440,420 L400,432 M345,425 L378,612 M400,432 L412,560 L430,590 M468,388 L478,500 L505,575 M440,420 L455,560"/>
 <path class="k w" d="M378,612 Q372,650 405,660 L430,652 L515,600 Q522,580 505,575 L430,590 Q395,585 378,612 Z"/>
 <ellipse class="k" cx="400" cy="626" rx="18" ry="22"/>
 <ellipse class="b" cx="400" cy="626" rx="9" ry="12"/>
 <path class="k" d="M430,652 L620,688 M515,600 L620,570 M500,545 L620,500"/>
 <!-- pin/rod with nuts -->
 <path class="k w" d="M232,498 L348,432 L360,452 L245,520 Z"/>
 <ellipse class="b w" style="stroke-width:2.2" cx="218" cy="518" rx="24" ry="32" transform="rotate(20 218 518)"/>
 <ellipse class="b" style="fill:#666" cx="220" cy="518" rx="12" ry="18" transform="rotate(20 220 518)"/>
 <ellipse class="b w" style="stroke-width:2.2" cx="240" cy="575" rx="20" ry="24" transform="rotate(20 240 575)"/>
 <ellipse class="b" style="fill:#666" cx="241" cy="575" rx="9" ry="12" transform="rotate(20 241 575)"/>
 <path class="b" d="M262,520 L300,545 L300,590 L380,615 M280,500 L335,520 L345,560 M262,560 L330,600 M310,480 L360,500 L370,560 M290,560 Q320,550 330,580"/>
 <path class="k" d="M190,478 L215,490 M255,595 L375,650 M355,520 Q375,540 368,570"/>
</g>

<!-- 71_manif14b.svg -->
<g transform="translate(270,640) scale(0.16129)">
 <!-- right boss -->
 <path class="k w" d="M368,378 L368,440 Q380,470 420,472 Q460,470 468,440 L468,378 Z"/>
 <ellipse class="b w" cx="418" cy="376" rx="50" ry="28"/>
 <ellipse class="b" cx="418" cy="376" rx="28" ry="15"/>
 <ellipse class="k" cx="420" cy="378" rx="14" ry="7"/>
 <!-- right body -->
 <path class="k" d="M468,420 L490,440 L488,472 L448,522 L442,582 L402,612 L332,630 L292,602 L286,548 L330,505 L345,470 Q350,450 368,445"/>
 <path class="k" d="M448,522 L400,545 L330,560 L286,548 M400,545 L400,612 M330,560 L332,630 M345,470 L400,480 L448,522 M350,560 L350,625 M380,552 L382,618"/>
 <ellipse class="k" cx="365" cy="500" rx="20" ry="24"/>
 <ellipse class="b" cx="366" cy="500" rx="9" ry="12"/>
 <path class="b" d="M310,545 L372,515 M318,556 L378,528"/>
 <path class="k" d="M345,470 Q320,455 300,470 L286,548"/>
 <!-- link arm upper -->
 <path class="k" d="M40,282 Q45,255 75,248 L130,238 Q165,240 185,275 L230,350 Q250,365 285,362 L345,350 Q360,352 368,378"/>
 <path class="k" d="M40,282 L45,370 Q60,395 95,398 L190,440 M95,398 Q130,385 150,340 Q165,300 185,275 M75,248 Q100,270 95,310 M150,340 L215,420 M230,350 L270,400 L300,395 M285,362 L300,395 L345,400"/>
 <ellipse class="k" cx="68" cy="345" rx="20" ry="25"/>
 <ellipse class="b" cx="69" cy="346" rx="9" ry="12"/>
 <path class="k" d="M100,235 L105,200 Q130,190 150,170 L180,160 Q185,130 170,100 L120,90 M150,170 Q140,130 100,120"/>
 <ellipse class="k" cx="108" cy="180" rx="12" ry="16"/>
 <!-- twin bosses -->
 <ellipse class="b w" cx="200" cy="482" rx="24" ry="27"/>
 <ellipse class="b" cx="200" cy="482" rx="11" ry="13"/>
 <ellipse class="b w" cx="256" cy="462" rx="24" ry="27"/>
 <ellipse class="b" cx="256" cy="462" rx="11" ry="13"/>
 <path class="k" d="M190,440 Q215,425 240,438 M225,500 L240,510 L262,490 M260,490 Q275,500 270,515"/>
 <!-- lower body -->
 <path class="k" d="M-20,395 L60,425 L178,470 M-20,430 L60,455 L60,560 M60,455 L180,500 M-20,545 L60,560 L150,570 L290,600"/>
 <path class="k" d="M215,510 L215,585 M240,515 L240,592"/>
 <path class="t" d="M70,460 L70,560 M225,512 L225,590"/>
 <ellipse class="k w" cx="150" cy="595" rx="24" ry="22"/>
 <ellipse class="k" cx="152" cy="595" rx="11" ry="12"/>
 <path class="k" d="M172,605 L215,585"/>
 <path class="l" d="M280,548 L280,645"/>
</g>
<!-- parts 15,16,17 -->
<g transform="translate(300,575) scale(0.193548)">
 <path class="k w" d="M176,80 Q190,65 205,80 L205,140 L176,140 Z"/>
 <path class="b" d="M176,80 Q190,90 205,80"/>
 <path class="k w" d="M152,145 L165,138 L215,138 L228,145 L228,168 L215,178 L165,178 L152,168 Z"/>
 <path class="b" d="M152,152 Q190,170 228,152"/>
 <path class="k" d="M172,160 L172,178 M208,160 L208,178"/>
 <path class="k w" d="M165,178 L215,178 L215,245 Q190,260 165,245 Z"/>
 <path class="k" d="M165,195 Q190,207 215,195 M165,210 Q190,222 215,210 M165,225 Q190,237 215,225"/>
 <ellipse class="b" cx="190" cy="287" rx="38" ry="18"/>
 <ellipse class="k" cx="190" cy="287" rx="26" ry="11"/>
 <path class="l" d="M190,310 L190,390 M190,560 L190,628"/>
 <!-- 16 -->
 <path class="k w" d="M158,398 L136,322 Q142,312 152,318 L172,392 Z"/>
 <path class="k w" d="M150,412 L72,410 Q62,425 72,440 L150,440 Z"/>
 <ellipse class="b" cx="66" cy="425" rx="6" ry="15" fill="#000"/>
 <path class="k w" d="M160,448 L100,492 Q95,515 118,525 L190,472 Z"/>
 <ellipse class="k" cx="108" cy="508" rx="14" ry="18" transform="rotate(35 108 508)"/>
 <path class="k w" d="M148,412 L148,440 Q160,465 190,466 Q225,462 232,438 L232,412 Z"/>
 <ellipse class="b w" cx="190" cy="410" rx="42" ry="22"/>
 <ellipse class="b" cx="190" cy="410" rx="24" ry="12"/>
 <ellipse class="k" cx="192" cy="412" rx="12" ry="6"/>
 <ellipse class="b" cx="190" cy="523" rx="38" ry="18"/>
 <ellipse class="k" cx="190" cy="523" rx="26" ry="11"/>
</g>
<path class="l" d="M344.5,605 L367.7,605 M344.5,630.5 L367.7,630.5 M345.5,659.2 L367.7,659.2 M344.5,676.2 L367.7,676.2 M341.6,726.4 L367.7,726.4"/>
<text transform="translate(374,609.8) scale(0.84,1)">15</text>
<text transform="translate(374,635.4) scale(0.84,1)">17</text>
<text transform="translate(374,664) scale(0.84,1)">16</text>
<text transform="translate(374,681.5) scale(0.84,1)">17</text>
<text transform="translate(374,731.4) scale(0.84,1)">14</text>
<text transform="translate(417.2,652.3) scale(0.84,1)">10</text>

<!-- 72_small.svg -->
<g transform="translate(190,515) scale(0.193548)">
 <!-- nut 19 -->
 <path class="k w" d="M168,100 L178,92 L200,92 L210,100 L210,122 L200,130 L178,130 L168,122 Z"/>
 <ellipse class="b" cx="189" cy="102" rx="18" ry="8"/>
 <path class="k" d="M180,110 L180,130 M198,110 L198,130"/>
 <!-- stud 11 -->
 <path class="k w" d="M178,156 Q189,148 200,156 L200,210 Q189,218 178,210 Z"/>
 <path class="k" d="M178,165 Q189,172 200,165 M178,175 Q189,182 200,175 M178,185 Q189,192 200,185 M178,195 Q189,202 200,195 M178,204 Q189,211 200,204"/>
 <!-- sensor 12 -->
 <ellipse class="k w" cx="192" cy="268" rx="24" ry="14"/>
 <ellipse class="k" cx="192" cy="268" rx="9" ry="5"/>
 <path class="b w" d="M68,242 L145,205 Q165,205 168,225 L168,245 L95,285 Q70,290 62,268 Q58,250 68,242 Z"/>
 <path class="b" d="M80,245 Q70,265 88,282 M100,235 Q92,255 108,275 M68,242 L150,218 M110,250 L165,228"/>
 <path class="b" d="M125,270 L170,265 L180,280 L165,295 L130,290 Z M135,290 L138,315 L162,318 L162,295"/>
 <path class="k" d="M140,305 L162,305"/>
 <!-- o-ring 13 -->
 <ellipse class="b" cx="148" cy="363" rx="26" ry="14"/>
</g>
<path class="l" d="M218.6,588.5 L218.6,658 M226.4,571.5 L226.4,664 M241.3,645.6 L241.3,664"/>
<path class="l" d="M231,536.3 L274.2,536.3 M229.1,550.8 L274.2,550.8 M231.6,568.2 L267.4,568.2 L267.4,585.1 L260.6,585.1 M267.4,576.9 L274.2,576.9 M224.5,585.3 L238.4,585.3 M244.6,630.2 L276.1,630.2"/>
<text transform="translate(280,541.1) scale(0.84,1)">19</text>
<text transform="translate(280.6,555.3) scale(0.84,1)">11</text>
<text transform="translate(280.2,581.8) scale(0.84,1)">12</text>
<text transform="translate(244.8,590.1) scale(0.84,1)">13</text>
<text transform="translate(282.5,634.6) scale(0.84,1)">18</text>

<!-- 73_bolts.svg -->
<g transform="translate(125,690) scale(0.290323)">
 <!-- stud 22 -->
 <path class="k w" d="M88,240 L268,146 Q280,146 282,158 L280,164 L98,260 Q88,262 86,250 Z"/>
 <path class="k" d="M268,146 L272,168 M260,150 L264,172 M252,154 L256,176 M244,158 L248,180 M96,236 L102,258 M104,232 L110,254 M112,228 L118,250 M120,224 L126,246 M128,220 L134,242"/>
 <!-- nut 23 -->
 <ellipse class="k w" cx="58" cy="272" rx="19" ry="20"/>
 <path class="b w" d="M44,266 L52,256 L66,256 L74,266 L72,280 L62,288 L50,286 Z"/>
 <ellipse class="b" cx="59" cy="271" rx="7" ry="7"/>
</g>
<path class="l" d="M165.6,698.5 L165.6,727.7 M172,757.5 L172,789.5 M142.3,775 L142.3,810.5 M283.3,769 L283.3,802.5"/>
<path class="l" d="M213.6,730.6 L258.6,755.3 L292,737.9"/>
<path class="l" d="M206.3,713.2 L216.5,707.4 M207.7,733.5 L241,716.7"/>
<text transform="translate(159.4,692.3) scale(0.84,1)">21</text>
<text transform="translate(165.9,805.8) scale(0.84,1)">22</text>
<text transform="translate(135.9,823.5) scale(0.84,1)">23</text>
<text transform="translate(276.2,819.7) scale(0.84,1)">20</text>
<!-- big routing lines -->
<path class="l" style="stroke-width:0.9" d="M346.1,386.5 L243.5,445.2 L524,609 L407.5,675.3 M402.5,678.2 L349.4,708.5"/>
<path class="l" style="stroke-width:0.9" stroke-dasharray="30 2.5 2.5 2.5" d="M492.9,316.4 L380.6,381"/>
<path class="l" d="M394.7,558.6 L404.9,568.8 L404.9,738.2 L394.7,748.8 M404.9,646.5 L411.7,646.5"/>

<!-- 74_boltsgen.svg -->
<!-- bolt 8 -->
<g transform="translate(194.3,344.2) rotate(-30.3)">
 <path class="k w" d="M5.6000000000000005,-2.6 L30.5,-2.6 Q32,-2.6 32,0 Q32,2.6 30.5,2.6 L5.6000000000000005,2.6 Z"/>
 <path class="k" style="stroke-width:0.8" d="M30.4,-2.6 L31.3,2.6 M28.4,-2.6 L29.3,2.6 M26.4,-2.6 L27.3,2.6 M24.4,-2.6 L25.3,2.6"/>
 <ellipse class="k w" cx="5.6000000000000005" cy="0" rx="2.38" ry="6.6"/>
 <path class="k w" d="M0,-4.7 L4.4,-4.7 L4.4,4.7 L0,4.7 Z"/>
 <path class="k" style="stroke-width:0.8" d="M0,2.12 L4.4,2.12 M0,-2.12 L4.4,-2.12"/>
 <polygon class="k w" points="2.52,2.40 0.00,4.79 -2.52,2.40 -2.52,-2.40 -0.00,-4.79 2.52,-2.40"/>
</g>
<!-- bolt 21 -->
<g transform="translate(163.6,735.9) rotate(-29.6)">
 <path class="k w" d="M5.6000000000000005,-2.6 L44.5,-2.6 Q46,-2.6 46,0 Q46,2.6 44.5,2.6 L5.6000000000000005,2.6 Z"/>
 <path class="k" style="stroke-width:0.8" d="M44.4,-2.6 L45.3,2.6 M42.4,-2.6 L43.3,2.6 M40.4,-2.6 L41.3,2.6 M38.4,-2.6 L39.3,2.6"/>
 <ellipse class="k w" cx="5.6000000000000005" cy="0" rx="2.38" ry="6.6"/>
 <path class="k w" d="M0,-4.7 L4.4,-4.7 L4.4,4.7 L0,4.7 Z"/>
 <path class="k" style="stroke-width:0.8" d="M0,2.12 L4.4,2.12 M0,-2.12 L4.4,-2.12"/>
 <polygon class="k w" points="2.52,2.40 0.00,4.79 -2.52,2.40 -2.52,-2.40 -0.00,-4.79 2.52,-2.40"/>
</g>
<!-- bolt 20 -->
<g transform="translate(283.7,762) rotate(-26)">
 <path class="k w" d="M5.6000000000000005,-2.6 L31.0,-2.6 Q32.5,-2.6 32.5,0 Q32.5,2.6 31.0,2.6 L5.6000000000000005,2.6 Z"/>
 <path class="k" style="stroke-width:0.8" d="M30.9,-2.6 L31.8,2.6 M28.9,-2.6 L29.8,2.6 M26.9,-2.6 L27.8,2.6 M24.9,-2.6 L25.8,2.6"/>
 <ellipse class="k w" cx="5.6000000000000005" cy="0" rx="2.38" ry="6.6"/>
 <path class="k w" d="M0,-4.7 L4.4,-4.7 L4.4,4.7 L0,4.7 Z"/>
 <path class="k" style="stroke-width:0.8" d="M0,2.12 L4.4,2.12 M0,-2.12 L4.4,-2.12"/>
 <polygon class="k w" points="2.52,2.40 0.00,4.79 -2.52,2.40 -2.52,-2.40 -0.00,-4.79 2.52,-2.40"/>
</g>
<!-- bolt 29 -->
<g transform="translate(25.1,555.1) rotate(29.3)">
 <path class="k w" d="M4.4,-1.9 L51.0,-1.9 Q52.5,-1.9 52.5,0 Q52.5,1.9 51.0,1.9 L4.4,1.9 Z"/>
 <path class="k" style="stroke-width:0.8" d="M50.9,-1.9 L51.8,1.9 M49.1,-1.9 L50.0,1.9 M47.3,-1.9 L48.2,1.9 M45.5,-1.9 L46.4,1.9 M43.7,-1.9 L44.6,1.9"/>
 <ellipse class="k w" cx="4.4" cy="0" rx="1.87" ry="5.2"/>
 <path class="k w" d="M0,-3.8 L3.2,-3.8 L3.2,3.8 L0,3.8 Z"/>
 <path class="k" style="stroke-width:0.8" d="M0,1.71 L3.2,1.71 M0,-1.71 L3.2,-1.71"/>
 <polygon class="k w" points="2.04,1.94 0.00,3.88 -2.04,1.94 -2.04,-1.94 -0.00,-3.88 2.04,-1.94"/>
</g>
<!-- bolt 27 -->
<g transform="translate(94.6,630.3) rotate(22)">
 <path class="k w" d="M3.8,-2.0 L13.0,-2.0 Q14.5,-2.0 14.5,0 Q14.5,2.0 13.0,2.0 L3.8,2.0 Z"/>
 <path class="k" style="stroke-width:0.8" d="M12.9,-2.0 L13.8,2.0 M11.1,-2.0 L12.0,2.0 M9.3,-2.0 L10.2,2.0 M7.5,-2.0 L8.4,2.0"/>
 <ellipse class="k w" cx="3.8" cy="0" rx="1.66" ry="4.6"/>
 <path class="k w" d="M0,-3.4 L2.6,-3.4 L2.6,3.4 L0,3.4 Z"/>
 <path class="k" style="stroke-width:0.8" d="M0,1.53 L2.6,1.53 M0,-1.53 L2.6,-1.53"/>
 <polygon class="k w" points="1.83,1.73 0.00,3.47 -1.83,1.73 -1.83,-1.73 -0.00,-3.47 1.83,-1.73"/>
</g>

</svg>
</body></html>
